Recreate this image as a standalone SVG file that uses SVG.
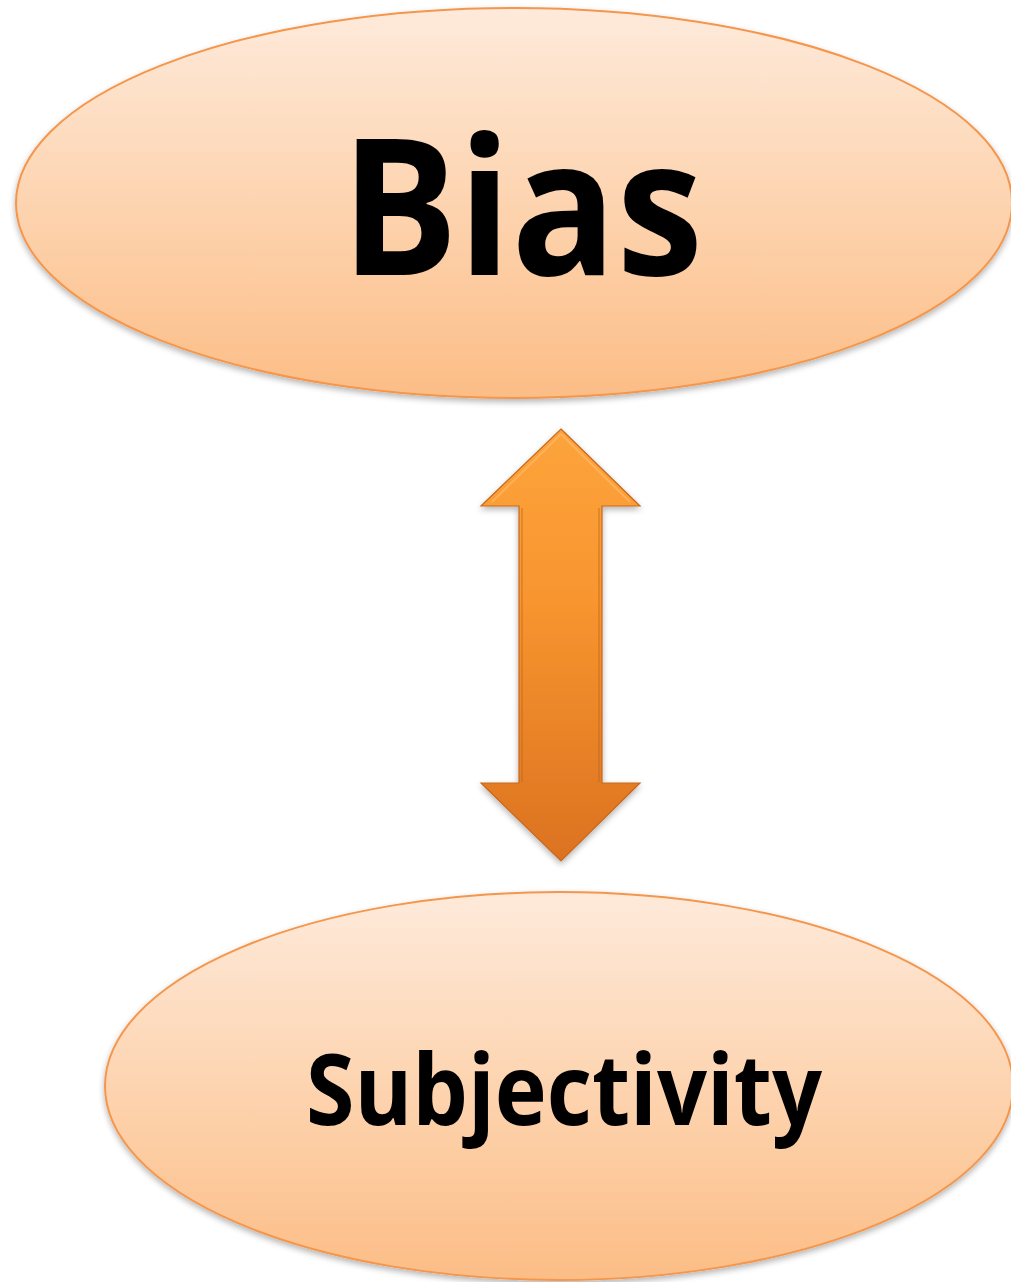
<svg xmlns="http://www.w3.org/2000/svg" width="1011" height="1282" viewBox="0 0 1011 1282">
  <defs>
    <linearGradient id="peach" x1="0" y1="0" x2="0" y2="1">
      <stop offset="0" stop-color="#FEEADB"/>
      <stop offset="0.5" stop-color="#FDD4B0"/>
      <stop offset="1" stop-color="#FCBD86"/>
    </linearGradient>
    <linearGradient id="arrowFill" x1="0" y1="0" x2="0" y2="1">
      <stop offset="0" stop-color="#FDA43C"/>
      <stop offset="0.4" stop-color="#F8952F"/>
      <stop offset="1" stop-color="#DB7220"/>
    </linearGradient>
    <filter id="softShadow" x="-5%" y="-5%" width="110%" height="115%">
      <feGaussianBlur in="SourceAlpha" stdDeviation="3"/>
      <feOffset dy="3"/>
      <feComponentTransfer><feFuncA type="linear" slope="0.3"/></feComponentTransfer>
      <feMerge><feMergeNode/><feMergeNode in="SourceGraphic"/></feMerge>
    </filter>
  </defs>
  <style>
    .node ellipse { fill: url(#peach); stroke: #F4964C; stroke-width: 2; }
    .label { font-family: "Open Sans", "Liberation Sans", sans-serif; font-weight: 700; fill: #000; text-anchor: middle; }
    .arrow { fill: url(#arrowFill); stroke: #C8681C; stroke-width: 1.2; }
    .bevel { fill: none; stroke: #FFC27A; stroke-width: 2; opacity: 0.5; }
    .edge { fill: none; stroke: #B8601A; stroke-width: 2; opacity: 0.35; }
  </style>
  <rect width="1011" height="1282" fill="#FFFFFF"/>

  <g id="node-bias" class="node" filter="url(#softShadow)">
    <ellipse cx="514" cy="203" rx="498" ry="195"/>
    <text class="label" x="522" y="275" font-size="190" textLength="362" lengthAdjust="spacingAndGlyphs">Bias</text>
  </g>

  <g id="node-subjectivity" class="node" filter="url(#softShadow)">
    <ellipse cx="559" cy="1086" rx="454" ry="194"/>
    <text class="label" x="564" y="1125" font-size="98" textLength="516" lengthAdjust="spacingAndGlyphs">Subjectivity</text>
  </g>

  <g id="connectors" filter="url(#softShadow)">
    <path class="arrow" d="M561,429 L640,506 L602,506 L602,783 L640,783 L561,861 L481,783 L519,783 L519,506 L481,506 Z"/>
    <path class="bevel" d="M561,434 L630,502 M492,502 L561,434"/>
    <path class="edge" d="M522,508 L522,782 M599,508 L599,782"/>
  </g>
</svg>
